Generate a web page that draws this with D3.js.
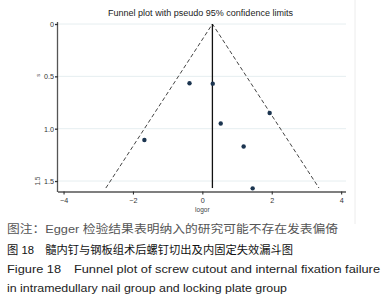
<!DOCTYPE html>
<html>
<head>
<meta charset="utf-8">
<script src="https://cdn.jsdelivr.net/npm/d3@7"></script>
<style>
  body { margin: 0; background: #fff; }
  svg { display: block; font-family: "Liberation Sans", Arial, sans-serif; }
</style>
</head>
<body>
<div class="funnel"></div>
<script>
// studies: log odds ratio and its standard error
const logor = [-0.37, 0.30, -1.67, 1.94, 0.53, 1.19, 1.45];
const se = [0.566, 0.57, 1.108, 0.85, 0.95, 1.17, 1.57];
const pooled = 0.29;
const seMax = 1.567;
const xTicks = [-4, -2, 0, 2, 4];
const yTicks = [0, 0.5, 1.0, 1.5];
const yTickLabels = ["0", "0.5", "1.0", "1.5"];
const title = "Funnel plot with pseudo 95% confidence limits";
const captions = [
  "图注：Egger 检验结果表明纳入的研究可能不存在发表偏倚",
  "图 18　髓内钉与钢板组术后螺钉切出及内固定失效漏斗图",
  "Figure 18　Funnel plot of screw cutout and internal fixation failure",
  "in intramedullary nail group and locking plate group"
];

const width = 389;
const height = 300;

const x = d3.scaleLinear().domain([-4.16, 4.14]).range([58, 346]);
const y = d3.scaleLinear().domain([0, 1.6]).range([24, 191.5]);

const svg = d3.select(".funnel").append("svg")
  .attr("width", width)
  .attr("height", height);

// graph region border on the right
svg.append("line")
  .attr("x1", 355).attr("x2", 355)
  .attr("y1", 0).attr("y2", 224)
  .attr("stroke", "#ececec")
  .attr("stroke-width", 1);

// gridlines
svg.append("g")
  .selectAll("line")
  .data(yTicks).enter()
  .append("line")
    .attr("x1", x.range()[0]).attr("x2", x.range()[1])
    .attr("y1", (d) => y(d)).attr("y2", (d) => y(d))
    .attr("stroke", "#e6eef0")
    .attr("stroke-width", 1);

// title
svg.append("text")
  .attr("x", 108)
  .attr("y", 16)
  .attr("font-size", 8.4)
  .attr("fill", "#222")
  .attr("textLength", 185)
  .attr("lengthAdjust", "spacingAndGlyphs")
  .text(title);

// axes
const yAxis = d3.axisLeft(y)
  .tickValues(yTicks)
  .tickSize(3)
  .tickFormat((d, i) => yTickLabels[i]);
const gy = svg.append("g")
  .attr("transform", `translate(${x.range()[0]},0)`)
  .call(yAxis);
gy.select(".domain").attr("d", `M-0.5,22V${y.range()[1] + 0.5}`).attr("stroke", "#555").attr("stroke-width", 1.3);
gy.selectAll(".tick line").attr("stroke", "#333").attr("stroke-width", 1.3);
gy.selectAll(".tick text").attr("font-size", 7.2).attr("fill", "#333").attr("x", -4).attr("dy", "0.35em");

const xAxis = d3.axisBottom(x).tickValues(xTicks).tickSize(3);
const gx = svg.append("g")
  .attr("transform", `translate(0,${y.range()[1]})`)
  .call(xAxis);
gx.select(".domain").attr("d", `M${x.range()[0]},0.5H${x.range()[1]}`).attr("stroke", "#555").attr("stroke-width", 1.3);
gx.selectAll(".tick line").attr("stroke", "#333").attr("stroke-width", 1.1);
gx.selectAll(".tick text").attr("font-size", 7.2).attr("fill", "#333").attr("y", 6.5);

svg.append("text")
  .attr("x", x(0))
  .attr("y", 212)
  .attr("text-anchor", "middle")
  .attr("font-size", 6.5)
  .attr("fill", "#444")
  .text("logor");

// stray rotated y-axis title fragments
svg.append("text")
  .attr("transform", `translate(40,${y(0.5) - 1}) rotate(-90)`)
  .attr("text-anchor", "middle")
  .attr("font-size", 6)
  .attr("fill", "#555")
  .text("s");
svg.append("text")
  .attr("transform", `translate(40,${y(1.5)}) rotate(-90)`)
  .attr("text-anchor", "middle")
  .attr("font-size", 6.5)
  .attr("fill", "#444")
  .text("1.5");

// pseudo 95% confidence limits
const funnel = [[pooled - 1.96 * seMax, seMax], [pooled, 0], [pooled + 1.96 * seMax, seMax]];
svg.append("path")
  .datum(funnel)
  .attr("d", d3.line().x((d) => x(d[0])).y((d) => y(d[1])))
  .attr("fill", "none")
  .attr("stroke", "#444")
  .attr("stroke-width", 1)
  .attr("stroke-dasharray", "4,2.5");

// pooled estimate
svg.append("line")
  .attr("x1", x(pooled)).attr("x2", x(pooled))
  .attr("y1", y(0)).attr("y2", y(seMax))
  .attr("stroke", "#111")
  .attr("stroke-width", 1.3);

// studies
svg.append("g")
  .selectAll("circle")
  .data(logor).enter()
  .append("circle")
    .attr("cx", (d) => x(d))
    .attr("cy", (d, i) => y(se[i]))
    .attr("r", 2.2)
    .attr("fill", "#1c3550");

// caption
const capStyle = [
  { y: 233, size: 11.6, fill: "#555", len: 331 },
  { y: 254, size: 11.6, fill: "#111", len: 286 },
  { y: 273, size: 11.2, fill: "#222", len: 373 },
  { y: 292, size: 11.2, fill: "#222", len: 280 }
];
svg.append("g")
  .selectAll("text")
  .data(captions).enter()
  .append("text")
    .attr("x", 7)
    .attr("y", (d, i) => capStyle[i].y)
    .attr("font-size", (d, i) => capStyle[i].size)
    .attr("fill", (d, i) => capStyle[i].fill)
    .attr("font-family", "'Liberation Sans', 'Noto Sans CJK SC', sans-serif")
    .attr("textLength", (d, i) => capStyle[i].len)
    .attr("lengthAdjust", "spacingAndGlyphs")
    .text((d) => d);
</script>
</body>
</html>
